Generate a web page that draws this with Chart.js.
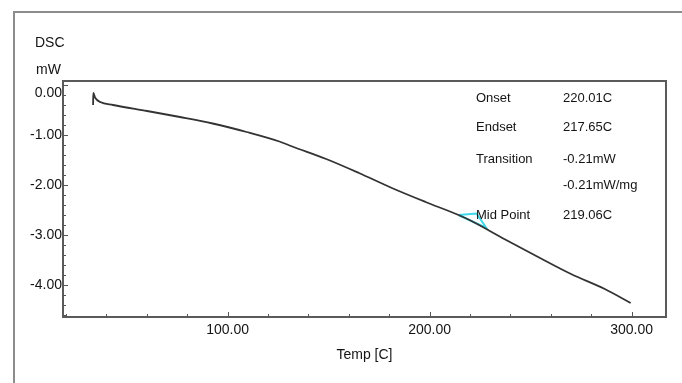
<!DOCTYPE html>
<html>
<head>
<meta charset="utf-8">
<script src="https://cdn.jsdelivr.net/npm/chart.js@4.4.0/dist/chart.umd.min.js"></script>
<style>
  body { margin: 0; background: #fff; }
  canvas { display: block; }
</style>
</head>
<body>
<canvas id="chart1" width="682" height="383"></canvas>
<script>
// DSC trace
const tempC = [33.4, 33.5, 34.5, 36.9, 43.3, 60.1, 76.4, 92.6, 109.4, 125.6, 132, 148.8, 165, 181.3, 198, 214.3, 220.7, 237.4, 253.7, 270, 286.7, 299.5];
const dscMw = [-0.40, -0.16, -0.26, -0.34, -0.40, -0.52, -0.64, -0.77, -0.94, -1.13, -1.23, -1.48, -1.76, -2.06, -2.34, -2.60, -2.72, -3.09, -3.44, -3.78, -4.08, -4.36];

// cyan transition marker
const markTemp = [214.3, 223.2, 228.1, 214.3];
const markDsc = [-2.60, -2.57, -2.86, -2.60];

const xTicks = [100, 200, 300];
const xTickLabels = ['100.00', '200.00', '300.00'];
const yTicks = [0, -1, -2, -3, -4];
const yTickLabels = ['0.00', '-1.00', '-2.00', '-3.00', '-4.00'];

const infoNames = ['Onset', 'Endset', 'Transition', '', 'Mid Point'];
const infoValues = ['220.01C', '217.65C', '-0.21mW', '-0.21mW/mg', '219.06C'];

const FONT = '"Liberation Sans", Arial, sans-serif';
const TEXT = '#141414';

const dscDecor = {
  id: 'dscDecor',
  beforeDraw(chart) {
    const ctx = chart.ctx;
    ctx.save();
    // outer window frame
    ctx.strokeStyle = '#8c8c8c';
    ctx.lineWidth = 2;
    ctx.beginPath();
    ctx.moveTo(14, 400);
    ctx.lineTo(14, 12);
    ctx.lineTo(700, 12);
    ctx.stroke();
    ctx.restore();
  },
  afterDraw(chart) {
    const { ctx, chartArea: a, scales: { x, y } } = chart;
    ctx.save();

    // plot frame
    ctx.strokeStyle = '#5a5a5a';
    ctx.lineWidth = 2;
    ctx.strokeRect(a.left, a.top, a.right - a.left, a.bottom - a.top);

    // inward tick marks
    ctx.strokeStyle = '#555';
    ctx.lineWidth = 1;
    ctx.beginPath();
    for (let t = 20; t <= 300; t += 20) {
      const px = Math.round(x.getPixelForValue(t)) + 0.5;
      const len = t % 100 === 0 ? 5 : 3;
      ctx.moveTo(px, a.bottom);
      ctx.lineTo(px, a.bottom - len);
    }
    for (let i = -23; i <= 0; i++) {
      const py = Math.round(y.getPixelForValue(i / 5)) + 0.5;
      const len = i % 5 === 0 ? 5 : 3;
      ctx.moveTo(a.left, py);
      ctx.lineTo(a.left + len, py);
    }
    ctx.stroke();

    // y axis title
    ctx.fillStyle = TEXT;
    ctx.font = '14px ' + FONT;
    ctx.textAlign = 'left';
    ctx.textBaseline = 'middle';
    ctx.fillText('DSC', 35, 43);
    ctx.fillText('mW', 36, 70);

    // result table
    ctx.font = '13px ' + FONT;
    const rowY = [98, 127, 159, 185, 215];
    infoNames.forEach((name, i) => {
      if (name) ctx.fillText(name, 476, rowY[i]);
      ctx.fillText(infoValues[i], 563, rowY[i]);
    });
    ctx.restore();
  }
};

const ctx1 = document.getElementById('chart1').getContext('2d');

new Chart(ctx1, {
  type: 'line',
  data: {
    datasets: [{
      data: tempC.map((t, i) => ({ x: t, y: dscMw[i] })),
      borderColor: '#333',
      borderWidth: 1.8,
      pointRadius: 0,
      cubicInterpolationMode: 'monotone'
    }, {
      data: markTemp.map((t, i) => ({ x: t, y: markDsc[i] })),
      borderColor: '#3fd8e8',
      borderWidth: 2,
      pointRadius: 0
    }]
  },
  options: {
    responsive: false,
    animation: false,
    layout: { padding: { left: 0, top: 81, right: 16, bottom: 0 } },
    plugins: { legend: { display: false }, tooltip: { enabled: false } },
    scales: {
      x: {
        type: 'linear',
        min: 18.5,
        max: 317,
        grid: { display: false, drawTicks: false },
        border: { display: false },
        afterBuildTicks: s => { s.ticks = xTicks.map(v => ({ value: v })); },
        afterFit: s => { s.height = 66; },
        ticks: {
          padding: 5,
          color: TEXT,
          maxRotation: 0,
          autoSkip: false,
          font: { family: FONT, size: 14 },
          callback: (v, i) => xTickLabels[i]
        },
        title: {
          display: true,
          text: 'Temp [C]',
          color: TEXT,
          font: { family: FONT, size: 14 },
          padding: { top: 0, bottom: 19 }
        }
      },
      y: {
        type: 'linear',
        min: -4.64,
        max: 0.08,
        grid: { display: false, drawTicks: false },
        border: { display: false },
        afterBuildTicks: s => { s.ticks = yTicks.map(v => ({ value: v })); },
        afterFit: s => { s.width = 63; },
        ticks: {
          padding: 1,
          color: TEXT,
          autoSkip: false,
          font: { family: FONT, size: 14 },
          // top label sits a little below its tick, as in the original
          callback: (v, i) => i === 0 ? ['', yTickLabels[i]] : yTickLabels[i]
        }
      }
    }
  },
  plugins: [dscDecor]
});
</script>
</body>
</html>
